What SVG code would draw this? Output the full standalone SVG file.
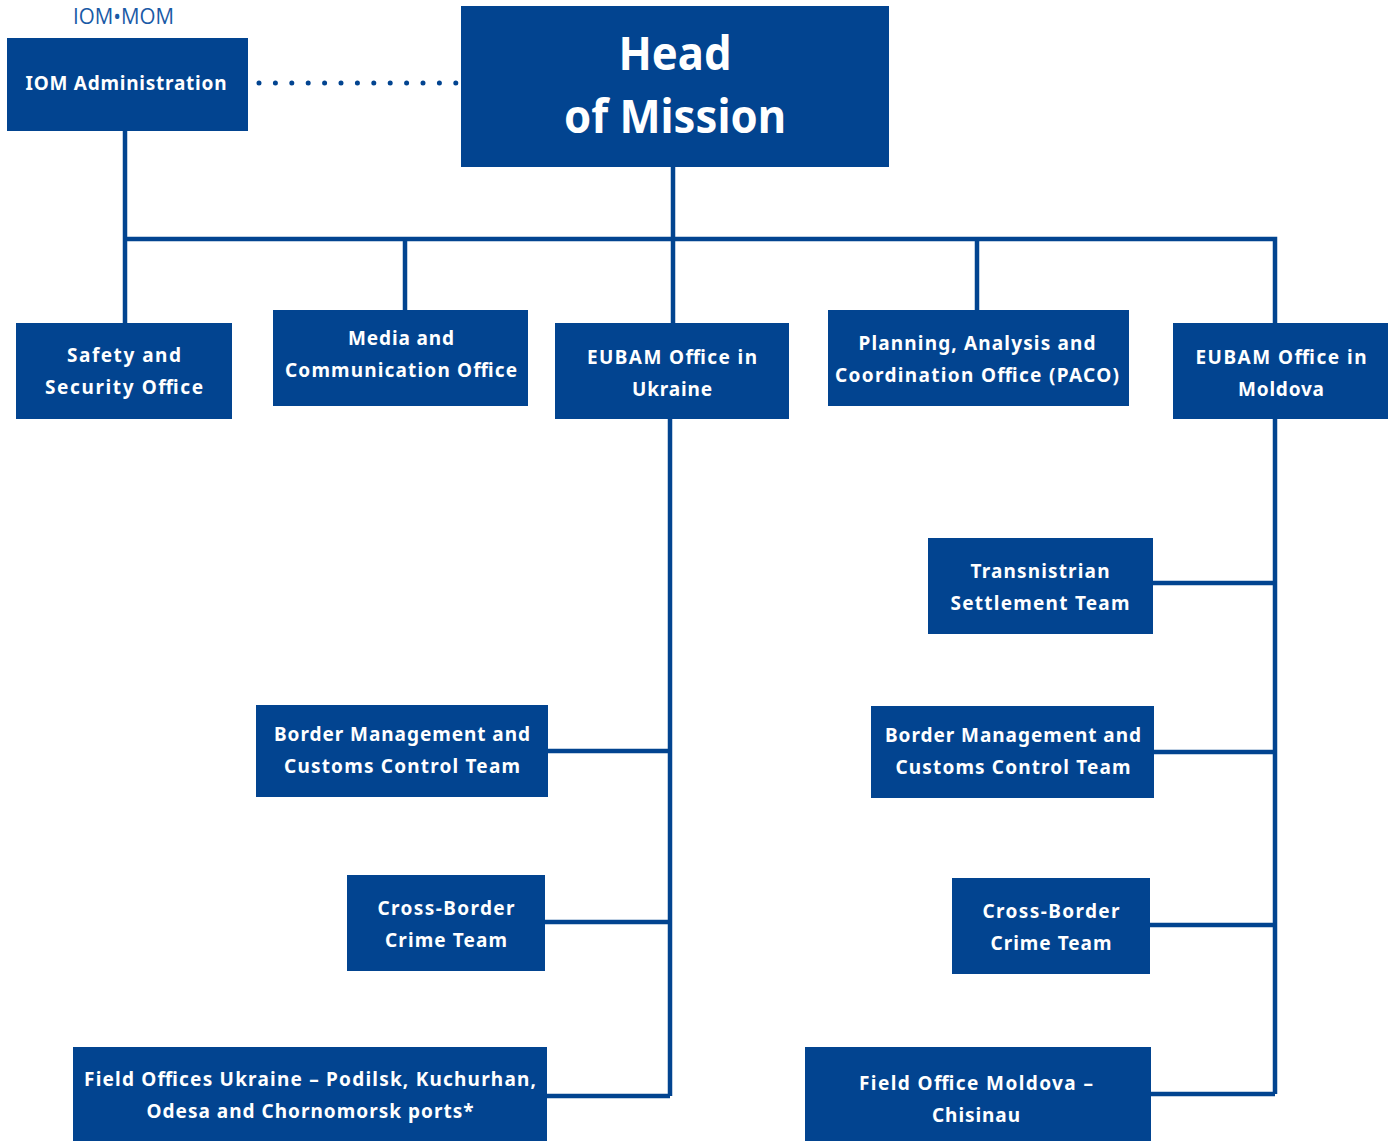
<svg xmlns="http://www.w3.org/2000/svg" width="1391" height="1141" viewBox="0 0 1391 1141">
<style>
.box{fill:#024490}
.t{font-family:"Noto Sans","DejaVu Sans",sans-serif;font-weight:700;font-size:19px;fill:#fff;text-anchor:middle}
.h{font-family:"Noto Sans","DejaVu Sans",sans-serif;font-weight:700;font-size:46px;fill:#fff;text-anchor:middle}
.ln{stroke:#024490;stroke-width:4.5;fill:none}
.dot{stroke:#024490;stroke-width:5;stroke-linecap:round;stroke-dasharray:0 16.4;fill:none}
</style>
<rect width="1391" height="1141" fill="#fff"/>
<g id="logo"><text x="73" y="24" font-family="Open Sans, Noto Sans, sans-serif" font-size="21" fill="#1a5aa6" textLength="101" lengthAdjust="spacingAndGlyphs">IOM•MOM</text></g>
<g id="connectors">
<path class="dot" d="M259 83 H456"/>
<path class="ln" d="M125 131 V323 M125 239 H1275 V323 M673 167 V323 M405 239 V310 M977 239 V310"/>
<path class="ln" d="M670 419 V1096 M548 751 H670 M545 922 H670 M547 1096 H670"/>
<path class="ln" d="M1275 419 V1094 M1153 583 H1275 M1154 752 H1275 M1150 925 H1275 M1151 1094 H1275"/>
</g>
<g id="head"><rect class="box" x="461" y="6" width="428" height="161"/>
<text class="h" x="675" y="70" textLength="113" lengthAdjust="spacingAndGlyphs">Head</text>
<text class="h" x="675" y="133" textLength="222" lengthAdjust="spacingAndGlyphs">of Mission</text></g>
<g id="iom-admin"><rect class="box" x="7" y="38" width="241" height="93"/>
<text class="t" x="126" y="90" textLength="201" lengthAdjust="spacing">IOM Administration</text></g>
<g id="safety"><rect class="box" x="16" y="323" width="216" height="96"/>
<text class="t" x="124" y="362" textLength="114" lengthAdjust="spacing">Safety and</text>
<text class="t" x="124" y="394" textLength="158" lengthAdjust="spacing">Security Office</text></g>
<g id="media"><rect class="box" x="273" y="310" width="255" height="96"/>
<text class="t" x="401" y="345" textLength="106" lengthAdjust="spacing">Media and</text>
<text class="t" x="401" y="377" textLength="232" lengthAdjust="spacing">Communication Office</text></g>
<g id="eubam-ukraine"><rect class="box" x="555" y="323" width="234" height="96"/>
<text class="t" x="672" y="364" textLength="170" lengthAdjust="spacing">EUBAM Office in</text>
<text class="t" x="672" y="396" textLength="80" lengthAdjust="spacing">Ukraine</text></g>
<g id="paco"><rect class="box" x="828" y="310" width="301" height="96"/>
<text class="t" x="977" y="350" textLength="237" lengthAdjust="spacing">Planning, Analysis and</text>
<text class="t" x="977" y="382" textLength="284" lengthAdjust="spacing">Coordination Office (PACO)</text></g>
<g id="eubam-moldova"><rect class="box" x="1173" y="323" width="215" height="96"/>
<text class="t" x="1281" y="364" textLength="171" lengthAdjust="spacing">EUBAM Office in</text>
<text class="t" x="1281" y="396" textLength="86" lengthAdjust="spacing">Moldova</text></g>
<g id="transnistrian"><rect class="box" x="928" y="538" width="225" height="96"/>
<text class="t" x="1040" y="578" textLength="139" lengthAdjust="spacing">Transnistrian</text>
<text class="t" x="1040" y="610" textLength="179" lengthAdjust="spacing">Settlement Team</text></g>
<g id="border-ua"><rect class="box" x="256" y="705" width="292" height="92"/>
<text class="t" x="402" y="741" textLength="256" lengthAdjust="spacing">Border Management and</text>
<text class="t" x="402" y="773" textLength="236" lengthAdjust="spacing">Customs Control Team</text></g>
<g id="border-md"><rect class="box" x="871" y="706" width="283" height="92"/>
<text class="t" x="1013" y="742" textLength="256" lengthAdjust="spacing">Border Management and</text>
<text class="t" x="1013" y="774" textLength="235" lengthAdjust="spacing">Customs Control Team</text></g>
<g id="crime-ua"><rect class="box" x="347" y="875" width="198" height="96"/>
<text class="t" x="446" y="915" textLength="137" lengthAdjust="spacing">Cross-Border</text>
<text class="t" x="446" y="947" textLength="122" lengthAdjust="spacing">Crime Team</text></g>
<g id="crime-md"><rect class="box" x="952" y="878" width="198" height="96"/>
<text class="t" x="1051" y="918" textLength="137" lengthAdjust="spacing">Cross-Border</text>
<text class="t" x="1051" y="950" textLength="121" lengthAdjust="spacing">Crime Team</text></g>
<g id="field-ua"><rect class="box" x="73" y="1047" width="474" height="94"/>
<text class="t" x="310" y="1086" textLength="452" lengthAdjust="spacing">Field Offices Ukraine – Podilsk, Kuchurhan,</text>
<text class="t" x="310" y="1118" textLength="327" lengthAdjust="spacing">Odesa and Chornomorsk ports*</text></g>
<g id="field-md"><rect class="box" x="805" y="1047" width="346" height="94"/>
<text class="t" x="976" y="1090" textLength="234" lengthAdjust="spacing">Field Office Moldova –</text>
<text class="t" x="976" y="1122" textLength="88" lengthAdjust="spacing">Chisinau</text></g>
</svg>
